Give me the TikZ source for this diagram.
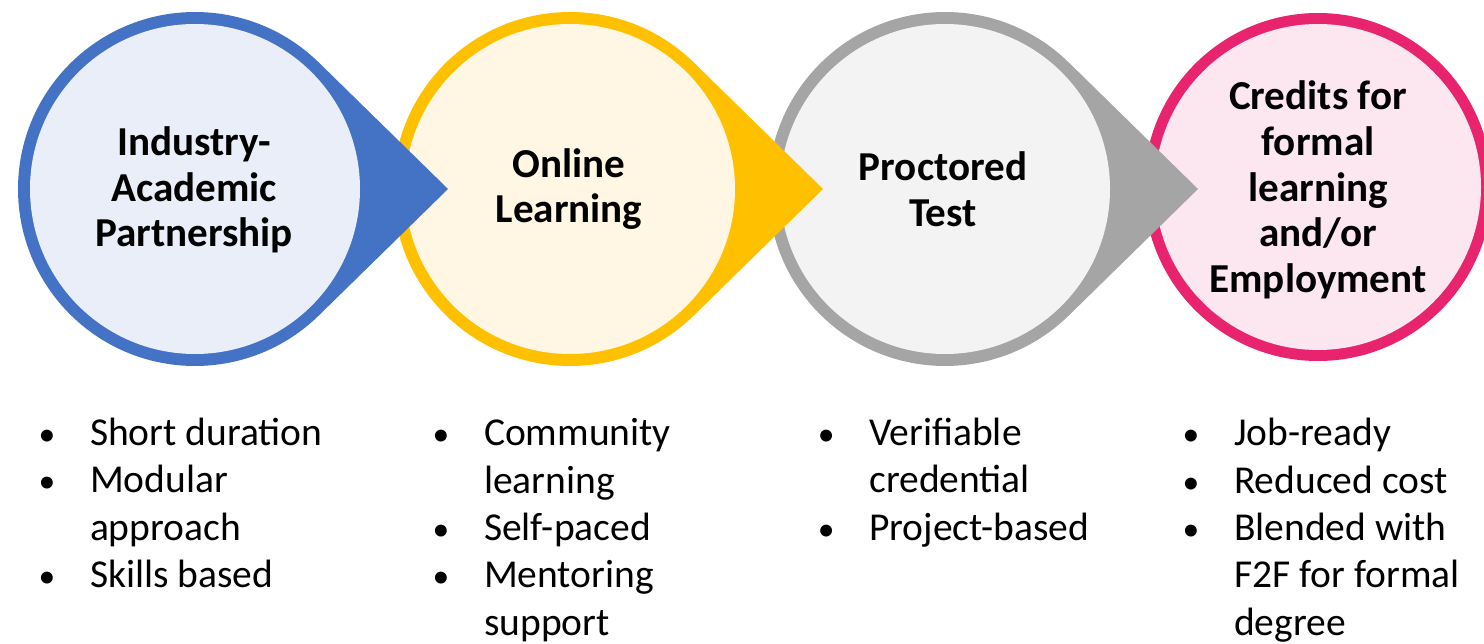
\documentclass[tikz,border=0pt]{standalone}
\usepackage{fontspec}
\setmainfont{Carlito}
\usetikzlibrary{calc}

\definecolor{bluering}{HTML}{4472C4}
\definecolor{bluefill}{HTML}{E9EEF8}
\definecolor{yellowring}{HTML}{FFC000}
\definecolor{yellowfill}{HTML}{FFF6E4}
\definecolor{greyring}{HTML}{A5A5A5}
\definecolor{greyfill}{HTML}{F3F3F3}
\definecolor{pinkring}{HTML}{E8246F}
\definecolor{pinkfill}{HTML}{FCE6F0}

\newcommand{\itm}{\makebox[0.86cm][l]{\makebox[0pt]{\scalebox{0.85}{\textbullet}}}}
\newcommand{\cnt}{\hspace*{0.86cm}}

\begin{document}
\begin{tikzpicture}[x=0.02cm,y=0.02cm,
    title/.style={align=center,inner sep=0pt,font=\bfseries\fontsize{23.4}{26}\selectfont},
    points/.style={align=left,anchor=base west,inner sep=0pt,font=\fontsize{22.5}{26.9}\selectfont}
]
\useasboundingbox (0,0) rectangle (1484,643);

\coordinate (c1) at (195,454);
\coordinate (c2) at (570,454);
\coordinate (c3) at (945,454);
\coordinate (c4) at (1318,456);

% last step has no point
\fill[pinkring] (c4) circle (174);
\fill[pinkfill] (c4) circle (163);

% drops, drawn right to left so each point lies on the next ring
\foreach \cn/\ring/\light in {c3/greyring/greyfill, c2/yellowring/yellowfill, c1/bluering/bluefill}{
    \fill[\ring] ($(\cn)+(253,0)$) -- ($(\cn)+(45.6:177)$)
        arc[start angle=45.6, end angle=314.4, radius=177] -- cycle;
    \fill[\light] (\cn) circle (165);
}

\node[title] (partner) at ($(c1)+(-1,-1)$) {Industry-\\Academic\\Partnership};
\node[title] (online) at ($(c2)+(-1,0)$) {Online\\Learning};
\node[title] (proctor) at ($(c3)+(-2,0)$) {Proctored\\Test};
\node[title] (credits) at ($(c4)+(0,-3)$) {Credits for\\formal\\learning\\and/or\\Employment};

% base of a list is the base of its last line
\node[points] (list1) at (46.7,55.5) {\itm Short duration\\\itm Modular\\\cnt approach\\\itm Skills based};
\node[points] (list2) at (440.7,8) {\itm Community\\\cnt learning\\\itm Self-paced\\\itm Mentoring\\\cnt support};
\node[points] (list3) at (826,103) {\itm Verifiable\\\cnt credential\\\itm Project-based};
\node[points] (list4) at (1190.7,8) {\itm Job-ready\\\itm Reduced cost\\\itm Blended with\\\cnt F2F for formal\\\cnt degree};

\end{tikzpicture}
\end{document}
